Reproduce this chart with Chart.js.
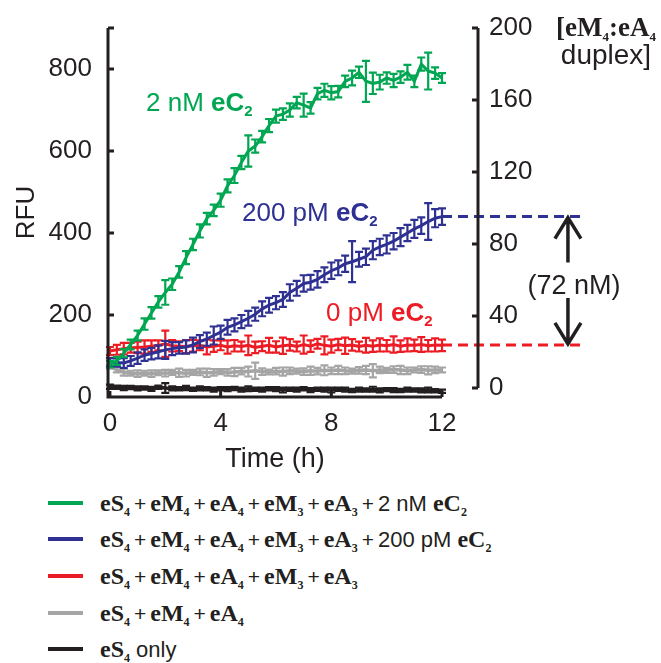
<!DOCTYPE html>
<html>
<head>
<meta charset="utf-8">
<script src="https://cdn.jsdelivr.net/npm/chart.js@4.4.1/dist/chart.umd.min.js"></script>
<style>
  html, body { margin: 0; padding: 0; background: #fff; }
  #wrap { position: relative; width: 661px; height: 663px; overflow: hidden; }
  #chart { position: absolute; left: 0; top: 0; }
  .sw { position: absolute; left: 48px; width: 35px; height: 4px; }
  .tx { position: absolute; left: 100px; white-space: nowrap; font: 22px "Liberation Sans", sans-serif; color: #231f20; line-height: 30px; }
  .tx b { font: bold 24px "Liberation Serif", serif; }
  .tx sub { font-size: 12px; vertical-align: -5px; line-height: 0; }
  .tx i { font-style: normal; font-size: 21px; margin: 0 4px; }
</style>
</head>
<body>
<div id="wrap">
  <canvas id="chart" width="661" height="480"></canvas>
  <div id="legend"></div>
</div>
<script>
// time points (h)
const timeH = [0, 0.25, 0.5, 0.75, 1, 1.25, 1.5, 1.75, 2, 2.25, 2.5, 2.75, 3, 3.25, 3.5, 3.75,
  4, 4.25, 4.5, 4.75, 5, 5.25, 5.5, 5.75, 6, 6.25, 6.5, 6.75, 7, 7.25, 7.5, 7.75,
  8, 8.25, 8.5, 8.75, 9, 9.25, 9.5, 9.75, 10, 10.25, 10.5, 10.75, 11, 11.25, 11.5, 11.75, 12];

// RFU
const rfu2nM = [80, 88, 107, 128, 150, 178, 205, 232, 255, 275, 305, 340, 372, 405, 435, 455,
  480, 515, 540, 572, 600, 612, 635, 662, 685, 690, 700, 718, 712, 705, 740, 748,
  742, 745, 770, 778, 792, 770, 765, 768, 778, 772, 780, 792, 770, 812, 795, 790, 778];
const err2nM = [8, 10, 10, 12, 12, 14, 14, 14, 30, 14, 14, 16, 14, 16, 14, 14,
  16, 16, 18, 16, 38, 16, 14, 16, 16, 14, 16, 14, 28, 14, 14, 16,
  16, 14, 14, 18, 14, 50, 26, 18, 14, 16, 14, 18, 14, 16, 45, 14, 12];

const rfu200pM = [85, 84, 83, 88, 95, 102, 106, 110, 115, 118, 120, 122, 127, 135, 141, 150,
  158, 170, 176, 184, 192, 202, 215, 224, 230, 238, 255, 265, 277, 280, 287, 298,
  308, 315, 325, 330, 336, 342, 358, 366, 372, 380, 390, 400, 410, 418, 428, 436, 440];
const err200pM = [10, 10, 12, 12, 14, 14, 14, 16, 22, 16, 14, 16, 18, 16, 16, 22,
  16, 18, 16, 16, 18, 16, 18, 18, 16, 18, 20, 18, 20, 18, 20, 18,
  20, 18, 20, 50, 18, 20, 22, 20, 22, 20, 22, 20, 22, 20, 45, 22, 20];

const rfu0pM = [112, 115, 118, 120, 121, 122, 124, 126, 130, 125, 124, 123, 125, 126, 122, 124,
  126, 122, 125, 123, 126, 121, 124, 126, 122, 125, 127, 123, 128, 124, 130, 126,
  124, 128, 125, 127, 123, 126, 124, 127, 125, 128, 124, 127, 126, 128, 125, 127, 126];
const err0pM = [10, 12, 14, 12, 14, 16, 14, 12, 32, 14, 12, 16, 14, 12, 18, 14,
  12, 16, 14, 12, 24, 14, 12, 18, 14, 20, 14, 12, 22, 14, 12, 22,
  16, 14, 20, 14, 12, 18, 14, 16, 14, 20, 14, 16, 14, 18, 14, 16, 14];

const rfuNoMA3 = [75, 66, 60, 58, 57, 58, 57, 59, 58, 60, 59, 58, 60, 61, 59, 60,
  62, 60, 61, 63, 62, 64, 62, 61, 63, 62, 64, 63, 62, 64, 63, 65,
  64, 66, 64, 63, 65, 66, 64, 66, 65, 67, 66, 64, 66, 67, 65, 66, 66];
const errNoMA3 = [6, 6, 8, 6, 8, 6, 8, 6, 8, 6, 10, 8, 6, 8, 10, 8,
  6, 8, 10, 8, 12, 20, 8, 6, 8, 10, 8, 6, 8, 10, 8, 12,
  8, 10, 8, 6, 8, 10, 16, 8, 6, 8, 10, 8, 6, 8, 10, 8, 6];

const rfuS4only = [25, 24, 22, 23, 21, 22, 20, 24, 22, 21, 20, 22, 19, 21, 20, 18,
  20, 19, 21, 18, 20, 19, 18, 20, 19, 17, 19, 18, 20, 17, 19, 18,
  17, 19, 18, 16, 18, 17, 19, 16, 18, 17, 16, 18, 17, 16, 17, 15, 14];
const errS4only = [5, 4, 5, 4, 5, 4, 5, 4, 12, 5, 4, 5, 4, 5, 4, 5,
  4, 5, 4, 5, 6, 4, 5, 4, 5, 6, 4, 5, 4, 5, 4, 5,
  6, 4, 5, 4, 5, 4, 6, 5, 4, 5, 4, 5, 4, 5, 6, 4, 4];

// dashed guides: end-point plateaus carried over to the duplex axis
const guideX = [12, 17.1];
const guide200pM = [440, 440];
const guide0pM = [127, 127];
const arrowX = 16.55;

const rfuTicks = [0, 200, 400, 600, 800];
const duplexTicks = [0, 40, 80, 120, 160, 200];
const timeTicks = [0, 4, 8, 12];

const green = "#00a651", blue = "#2e3192", red = "#ed1c24", grey = "#a5a5a5", ink = "#231f20";
const sans = '"Liberation Sans", Arial, sans-serif';
const serif = '"Liberation Serif", "Times New Roman", serif';

function pts(ys) { return timeH.map((t, i) => ({ x: t, y: ys[i] })); }

function series(label, ys, errs, color, width) {
  return { label, data: pts(ys), errors: errs, borderColor: color, backgroundColor: color,
    borderWidth: width, pointRadius: 0, tension: 0 };
}
function guide(ys, color) {
  return { data: guideX.map((x, i) => ({ x, y: ys[i] })), borderColor: color, borderWidth: 3,
    borderDash: [10, 6], pointRadius: 0, clip: false };
}

function drawRich(ctx, parts, x, y, align) {
  let w = 0;
  parts.forEach(p => { ctx.font = p.f; w += ctx.measureText(p.t).width; });
  let cx = align === "center" ? x - w / 2 : x;
  parts.forEach(p => {
    ctx.font = p.f;
    ctx.fillText(p.t, cx, y + (p.dy || 0));
    cx += ctx.measureText(p.t).width;
  });
}

const errorBars = {
  id: "errorBars",
  afterDatasetDraw(chart, args) {
    const ds = chart.data.datasets[args.index];
    if (!ds.errors) return;
    const { ctx } = chart, xs = chart.scales.x, ys = chart.scales.y;
    ctx.save();
    ctx.strokeStyle = ds.borderColor;
    ctx.lineWidth = 2.2;
    ds.data.forEach((p, i) => {
      const px = xs.getPixelForValue(p.x);
      const lo = ys.getPixelForValue(p.y - ds.errors[i]);
      const hi = ys.getPixelForValue(p.y + ds.errors[i]);
      ctx.beginPath();
      ctx.moveTo(px, lo); ctx.lineTo(px, hi);
      ctx.moveTo(px - 4, lo); ctx.lineTo(px + 4, lo);
      ctx.moveTo(px - 4, hi); ctx.lineTo(px + 4, hi);
      ctx.stroke();
    });
    ctx.restore();
  }
};

const decorations = {
  id: "decorations",
  afterDraw(chart) {
    const { ctx } = chart, xs = chart.scales.x, ys = chart.scales.y, y2 = chart.scales.y2;
    const left = xs.getPixelForValue(xs.min), bottom = ys.getPixelForValue(0);
    const xEnd = xs.getPixelForValue(12), right = chart.chartArea.right;
    ctx.save();
    ctx.strokeStyle = ink;
    ctx.lineWidth = 3;
    ctx.lineCap = "butt";
    // left axis + inward ticks
    ctx.beginPath();
    ctx.moveTo(left, ys.getPixelForValue(ys.max));
    ctx.lineTo(left, bottom);
    ctx.lineTo(xEnd, bottom);
    [...rfuTicks, ys.max].forEach(v => {
      const py = ys.getPixelForValue(v);
      ctx.moveTo(left, py); ctx.lineTo(left + 6, py);
    });
    timeTicks.forEach(v => {
      const px = xs.getPixelForValue(v);
      ctx.moveTo(px, bottom); ctx.lineTo(px, bottom - 6);
    });
    // right duplex axis
    ctx.moveTo(right, y2.getPixelForValue(0));
    ctx.lineTo(right, y2.getPixelForValue(200));
    duplexTicks.forEach(v => {
      const py = y2.getPixelForValue(v);
      ctx.moveTo(right, py); ctx.lineTo(right - 6, py);
    });
    ctx.stroke();

    // arrows between plateaus
    const ax = xs.getPixelForValue(arrowX);
    const top = ys.getPixelForValue(guide200pM[0]), low = ys.getPixelForValue(guide0pM[0]);
    ctx.lineWidth = 3.5;
    ctx.lineJoin = "miter";
    ctx.beginPath();
    ctx.moveTo(ax, top + 46); ctx.lineTo(ax, top + 2);
    ctx.moveTo(ax - 13, top + 22); ctx.lineTo(ax, top + 1); ctx.lineTo(ax + 13, top + 22);
    ctx.moveTo(ax, low - 47); ctx.lineTo(ax, low - 2);
    ctx.moveTo(ax - 13, low - 22); ctx.lineTo(ax, low - 1); ctx.lineTo(ax + 13, low - 22);
    ctx.stroke();

    ctx.fillStyle = ink;
    ctx.textBaseline = "alphabetic";
    ctx.textAlign = "left";
    drawRich(ctx, [{ t: "(72 nM)", f: `27px ${sans}` }], ax + 6, (top + low) / 2 + 13, "center");

    // axis titles
    drawRich(ctx, [{ t: "Time (h)", f: `27px ${sans}` }], (left + xEnd) / 2, 467, "center");
    ctx.save();
    ctx.translate(34, (chart.chartArea.top + chart.chartArea.bottom) / 2);
    ctx.rotate(-Math.PI / 2);
    drawRich(ctx, [{ t: "RFU", f: `26px ${sans}` }], 0, 0, "center");
    ctx.restore();

    drawRich(ctx, [
      { t: "[eM", f: `bold 27px ${serif}` }, { t: "4", f: `bold 13px ${serif}`, dy: 5 },
      { t: ":eA", f: `bold 27px ${serif}` }, { t: "4", f: `bold 13px ${serif}`, dy: 5 }
    ], 606, 36, "center");
    drawRich(ctx, [{ t: "duplex]", f: `28px ${sans}` }], 606, 64, "center");

    // curve labels
    const lbl = (txt, color, x, y) => {
      ctx.fillStyle = color;
      drawRich(ctx, [
        { t: txt, f: `26px ${sans}` }, { t: "eC", f: `bold 26px ${sans}` },
        { t: "2", f: `bold 15px ${sans}`, dy: 5 }
      ], x, y, "left");
    };
    lbl("2 nM ", green, 146, 111);
    lbl("200 pM ", blue, 242, 221);
    lbl("0 pM ", red, 326, 321);
    ctx.restore();
  }
};

const chart = new Chart(document.getElementById("chart"), {
  type: "line",
  data: {
    datasets: [
      series("2 nM", rfu2nM, err2nM, green, 3),
      series("200 pM", rfu200pM, err200pM, blue, 3),
      series("0 pM", rfu0pM, err0pM, red, 3),
      series("eS4 + eM4 + eA4", rfuNoMA3, errNoMA3, grey, 3.5),
      series("eS4 only", rfuS4only, errS4only, ink, 3.5),
      guide(guide200pM, blue),
      guide(guide0pM, red)
    ]
  },
  options: {
    responsive: false,
    animation: false,
    layout: { padding: { top: 28, left: 0, right: 0, bottom: 0 } },
    plugins: { legend: { display: false }, tooltip: { enabled: false } },
    scales: {
      x: {
        type: "linear", min: -0.07, max: 13.3,
        grid: { display: false }, border: { display: false },
        afterBuildTicks: s => { s.ticks = timeTicks.map(v => ({ value: v })); },
        afterFit: s => { s.height = 83; },
        ticks: { color: ink, font: { family: sans, size: 26 }, padding: 3, maxRotation: 0 }
      },
      y: {
        min: 0, max: 900,
        grid: { display: false }, border: { display: false },
        afterBuildTicks: s => { s.ticks = rfuTicks.map(v => ({ value: v })); },
        afterFit: s => { s.width = 108; },
        ticks: { color: ink, font: { family: sans, size: 26 }, padding: 8 }
      },
      y2: {
        position: "right", min: -5, max: 200,
        grid: { display: false }, border: { display: false },
        afterBuildTicks: s => { s.ticks = duplexTicks.map(v => ({ value: v })); },
        afterFit: s => { s.width = 183; },
        ticks: { color: ink, font: { family: sans, size: 26 }, padding: 3 }
      }
    }
  },
  plugins: [errorBars, decorations]
});

// legend with chemical subscripts
const P = '<i>+</i>';
const legendRows = [
  { color: green, html: `<b>eS<sub>4</sub></b>${P}<b>eM<sub>4</sub></b>${P}<b>eA<sub>4</sub></b>${P}<b>eM<sub>3</sub></b>${P}<b>eA<sub>3</sub></b>${P}2 nM <b>eC<sub>2</sub></b>` },
  { color: blue, html: `<b>eS<sub>4</sub></b>${P}<b>eM<sub>4</sub></b>${P}<b>eA<sub>4</sub></b>${P}<b>eM<sub>3</sub></b>${P}<b>eA<sub>3</sub></b>${P}200 pM <b>eC<sub>2</sub></b>` },
  { color: red, html: `<b>eS<sub>4</sub></b>${P}<b>eM<sub>4</sub></b>${P}<b>eA<sub>4</sub></b>${P}<b>eM<sub>3</sub></b>${P}<b>eA<sub>3</sub></b>` },
  { color: grey, html: `<b>eS<sub>4</sub></b>${P}<b>eM<sub>4</sub></b>${P}<b>eA<sub>4</sub></b>` },
  { color: ink, html: '<b>eS<sub>4</sub></b> only' }
];
const legendY = [503, 539, 576, 613, 649];
const legend = document.getElementById("legend");
legendRows.forEach((r, i) => {
  const sw = document.createElement("div");
  sw.className = "sw";
  sw.style.top = (legendY[i] - 2) + "px";
  sw.style.background = r.color;
  const tx = document.createElement("div");
  tx.className = "tx";
  tx.style.top = (legendY[i] - 14) + "px";
  tx.innerHTML = r.html;
  legend.appendChild(sw);
  legend.appendChild(tx);
});
</script>
</body>
</html>
